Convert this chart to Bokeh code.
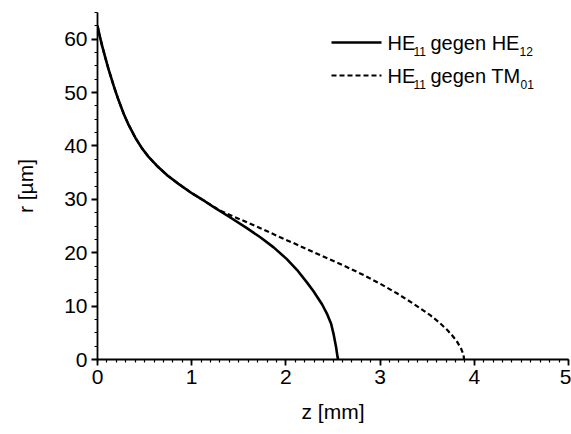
from bokeh.plotting import figure
from bokeh.models import Range1d, FixedTicker, Label
from bokeh.embed import file_html
from bokeh.resources import INLINE

# ---- data ----
z_he12 = [0.0, 0.025, 0.05, 0.085, 0.117, 0.173, 0.223, 0.279, 0.329, 0.403, 0.471, 0.545, 0.63, 0.74, 0.86, 1.005, 1.143,
          1.23, 1.41, 1.586, 1.728, 1.87, 2.01, 2.117, 2.225, 2.293, 2.385, 2.435, 2.48, 2.505, 2.533, 2.548, 2.555]
r_he12 = [62.5, 60.5, 58.7, 56.4, 54.4, 51.2, 48.6, 46.0, 44.0, 41.5, 39.6, 37.9, 36.3, 34.5, 32.9, 31.1, 29.6,
          28.6, 26.6, 24.6, 22.9, 21.0, 18.8, 16.8, 14.4, 12.8, 10.3, 8.6, 6.7, 4.85, 2.3, 0.5, 0.0]

z_tm01 = [0.0, 0.025, 0.05, 0.085, 0.117, 0.173, 0.223, 0.279, 0.329, 0.403, 0.471, 0.545, 0.63, 0.74, 0.86, 1.005, 1.143,
          1.30, 1.586, 1.766, 1.94, 2.12, 2.293, 2.474, 2.65, 2.827, 3.0, 3.178, 3.358, 3.532, 3.624, 3.709, 3.766, 3.815, 3.861, 3.885, 3.892]
r_tm01 = [62.5, 60.5, 58.7, 56.4, 54.4, 51.2, 48.6, 46.0, 44.0, 41.5, 39.6, 37.9, 36.3, 34.5, 32.9, 31.1, 29.6,
          27.9, 25.7, 24.3, 22.9, 21.5, 20.1, 18.7, 17.3, 15.8, 14.2, 12.4, 10.4, 8.3, 7.0, 5.6, 4.5, 3.4, 2.0, 0.9, 0.0]

x_ticks = [0, 1, 2, 3, 4, 5]
y_ticks = [0, 10, 20, 30, 40, 50, 60]
x_minor = [i / 10 for i in range(0, 51)]
y_minor = [i * 2.5 for i in range(0, 27)]

X_RANGE = (0, 5)
Y_RANGE = (0, 65)

FONT = "Liberation Sans"

# ---- layout ----
W, H = 571, 434
LEFT, RIGHT, TOP, BOTTOM = 97, 3, 12, 75
FW = W - LEFT - RIGHT
FH = H - TOP - BOTTOM

p = figure(width=W, height=H, output_backend="svg", toolbar_location=None,
           title=None,
           x_range=Range1d(*X_RANGE), y_range=Range1d(*Y_RANGE),
           min_border_left=LEFT, min_border_right=RIGHT,
           min_border_top=TOP, min_border_bottom=BOTTOM)
p.outline_line_color = None
p.xgrid.visible = False
p.ygrid.visible = False
p.background_fill_color = "white"
p.border_fill_color = "white"

p.xaxis.ticker = FixedTicker(ticks=x_ticks, minor_ticks=x_minor)
p.yaxis.ticker = FixedTicker(ticks=y_ticks, minor_ticks=y_minor)
p.xaxis.axis_label = "z [mm]"
p.yaxis.axis_label = "r [µm]"
for ax in (p.xaxis, p.yaxis):
    ax.axis_line_width = 1.8
    ax.axis_line_color = "black"
    ax.major_tick_line_color = "black"
    ax.minor_tick_line_color = "black"
    ax.major_tick_line_width = 1.8
    ax.minor_tick_line_width = 1.2
    ax.major_tick_out = 6
    ax.major_tick_in = 0
    ax.minor_tick_out = 3
    ax.minor_tick_in = 0
    ax.major_label_text_font = FONT
    ax.major_label_text_font_size = "21px"
    ax.major_label_text_color = "black"
    ax.axis_label_text_font = FONT
    ax.axis_label_text_font_size = "21px"
    ax.axis_label_text_font_style = "normal"
    ax.axis_label_text_color = "black"
    ax.major_label_standoff = 4
p.xaxis.axis_label_standoff = 13
p.yaxis.axis_label_standoff = 24

p.line(z_he12, r_he12, line_color="black", line_width=2.6)
p.line(z_tm01, r_tm01, line_color="black", line_width=2.2, line_dash="5 3")

# ---- manual legend (screen px -> data) ----
def dx(px):
    return X_RANGE[0] + (px - LEFT) / FW * (X_RANGE[1] - X_RANGE[0])

def dy(py):
    return Y_RANGE[0] + (TOP + FH - py) / FH * (Y_RANGE[1] - Y_RANGE[0])

legend_rows = [
    ("HE", "11", "gegen HE", "12", 519, None, 42),
    ("HE", "11", "gegen TM", "01", 520, "5 3", 75),
]
for a, s1, b, s2, s2x, dash, py in legend_rows:
    kw = dict(line_color="black", line_width=2.2 if dash else 2.6)
    if dash:
        kw["line_dash"] = dash
    p.line([dx(331), dx(381)], [dy(py), dy(py)], **kw)
    parts = [(387, a, 20, 0), (413, s1, 12, 9), (430, b, 20, 0), (s2x, s2, 12, 9)]
    for px, t, fs, off in parts:
        p.add_layout(Label(x=dx(px), y=dy(py + off), text=t,
                           text_font=FONT, text_font_size=f"{fs}px",
                           text_baseline="middle", text_align="left",
                           text_color="black"))

open("out.html", "w").write(file_html(p, INLINE))
